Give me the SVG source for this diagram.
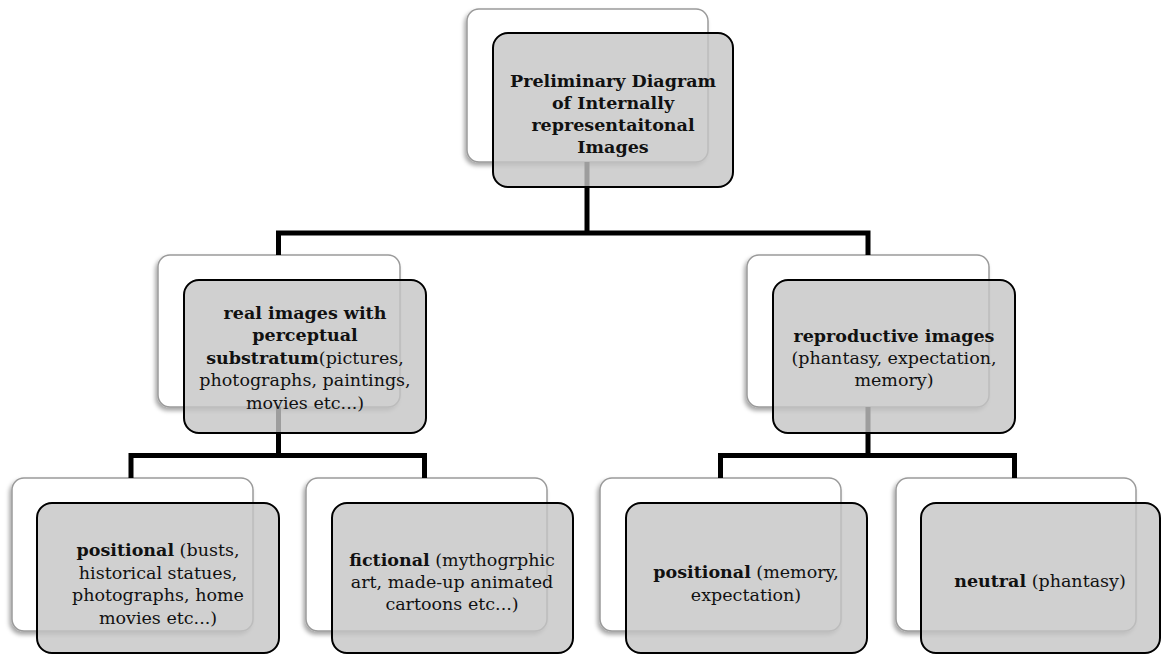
<svg xmlns="http://www.w3.org/2000/svg" width="1162" height="654" viewBox="0 0 1162 654">
<defs>
<filter id="sh" x="-10%" y="-10%" width="120%" height="125%">
<feDropShadow dx="-2" dy="3" stdDeviation="2" flood-color="#000" flood-opacity="0.35"/>
</filter>
</defs>
<style>
.back{fill:#ffffff;stroke:#9a9a9a;stroke-width:1.5;filter:url(#sh)}
.front{fill:#c4c4c4;fill-opacity:0.8;stroke:#000;stroke-width:2}
.conn{fill:none;stroke:#000;stroke-width:5;stroke-linejoin:miter;stroke-linecap:butt}
text{font-family:"DejaVu Serif","Liberation Serif",serif;font-size:17.5px;fill:#111;text-anchor:middle}
.b{font-weight:bold}
</style>
<rect width="1162" height="654" fill="#ffffff"/>

<g id="backs">
<rect class="back" x="467" y="9" width="241" height="153" rx="12"/>
<rect class="back" x="158" y="255" width="242" height="152" rx="12"/>
<rect class="back" x="747" y="255" width="242" height="152" rx="12"/>
<rect class="back" x="12" y="478" width="241" height="153" rx="12"/>
<rect class="back" x="306" y="478" width="241" height="153" rx="12"/>
<rect class="back" x="600" y="478" width="241" height="153" rx="12"/>
<rect class="back" x="896" y="478" width="240" height="153" rx="12"/>
</g>

<g id="connectors">
<path class="conn" d="M587,162 V233 M278.5,255 V233 H868 V255"/>
<path class="conn" d="M278.5,407 V455.5 M131,478 V455.5 H424.5 V478"/>
<path class="conn" d="M868,407 V455.5 M720.5,478 V455.5 H1014.5 V478"/>
</g>

<g id="node-top">
<rect class="front" x="493" y="33" width="240" height="154" rx="15"/>
<text class="b" x="613" y="87">Preliminary Diagram</text>
<text class="b" x="613" y="109">of Internally</text>
<text class="b" x="613" y="131">representaitonal</text>
<text class="b" x="613" y="153">Images</text>
</g>

<g id="node-real">
<rect class="front" x="184" y="280" width="242" height="153" rx="15"/>
<text class="b" x="305" y="319">real images with</text>
<text class="b" x="305" y="341">perceptual</text>
<text x="305" y="364"><tspan class="b">substratum</tspan>(pictures,</text>
<text x="305" y="386">photographs, paintings,</text>
<text x="305" y="409">movies etc...)</text>
</g>

<g id="node-repro">
<rect class="front" x="773" y="280" width="242" height="153" rx="15"/>
<text class="b" x="894" y="342">reproductive images</text>
<text x="894" y="364">(phantasy, expectation,</text>
<text x="894" y="386">memory)</text>
</g>

<g id="node-pos1">
<rect class="front" x="37" y="503" width="242" height="150" rx="15"/>
<text x="158" y="556"><tspan class="b">positional</tspan> (busts,</text>
<text x="158" y="579">historical statues,</text>
<text x="158" y="601">photographs, home</text>
<text x="158" y="624">movies etc...)</text>
</g>

<g id="node-fict">
<rect class="front" x="332" y="503" width="241" height="150" rx="15"/>
<text x="452" y="566"><tspan class="b">fictional</tspan> (mythogrphic</text>
<text x="452" y="588">art, made-up animated</text>
<text x="452" y="610">cartoons etc...)</text>
</g>

<g id="node-pos2">
<rect class="front" x="626" y="503" width="241" height="150" rx="15"/>
<text x="746" y="578"><tspan class="b">positional</tspan> (memory,</text>
<text x="746" y="601">expectation)</text>
</g>

<g id="node-neutral">
<rect class="front" x="921" y="503" width="239" height="150" rx="15"/>
<text x="1040" y="587"><tspan class="b">neutral</tspan> (phantasy)</text>
</g>
</svg>
